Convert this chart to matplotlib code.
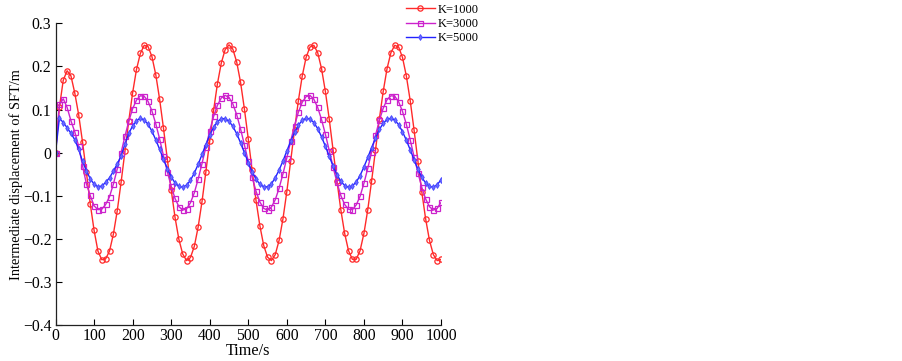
import matplotlib
matplotlib.use("Agg")
import matplotlib.pyplot as plt
from matplotlib.ticker import FixedLocator, FixedFormatter

plt.rcParams['font.family'] = ['Liberation Serif', 'DejaVu Serif']
plt.rcParams['axes.unicode_minus'] = True

time_s = list(range(0, 1001, 10))

k1000 = [0.000, 0.105, 0.168, 0.190, 0.178, 0.138, 0.088, 0.025, -0.045, -0.118,
         -0.180, -0.228, -0.248, -0.246, -0.228, -0.189, -0.135, -0.069, 0.003, 0.074,
         0.139, 0.193, 0.230, 0.249, 0.246, 0.223, 0.181, 0.124, 0.057, -0.015,
         -0.086, -0.150, -0.201, -0.235, -0.250, -0.243, -0.217, -0.172, -0.113, -0.044,
         0.028, 0.098, 0.160, 0.208, 0.239, 0.250, 0.240, 0.210, 0.163, 0.101,
         0.032, -0.041, -0.110, -0.169, -0.215, -0.242, -0.250, -0.236, -0.203, -0.153,
         -0.090, -0.019, 0.053, 0.121, 0.178, 0.221, 0.245, 0.249, 0.232, 0.195,
         0.142, 0.078, 0.006, -0.065, -0.132, -0.187, -0.227, -0.247, -0.247, -0.227,
         -0.187, -0.132, -0.065, 0.006, 0.078, 0.142, 0.195, 0.232, 0.249, 0.245,
         0.221, 0.178, 0.121, 0.053, -0.019, -0.090, -0.153, -0.203, -0.236, -0.250,
         -0.247]

k3000 = [0.000, 0.112, 0.125, 0.105, 0.074, 0.048, 0.015, -0.030, -0.072, -0.099,
         -0.123, -0.132, -0.131, -0.120, -0.102, -0.073, -0.038, 0.000, 0.038, 0.073,
         0.102, 0.122, 0.132, 0.131, 0.119, 0.097, 0.067, 0.032, -0.007, -0.044,
         -0.078, -0.106, -0.125, -0.133, -0.130, -0.116, -0.093, -0.061, -0.025, 0.013,
         0.051, 0.084, 0.110, 0.127, 0.133, 0.128, 0.113, 0.088, 0.055, 0.018,
         -0.020, -0.057, -0.089, -0.114, -0.129, -0.133, -0.126, -0.109, -0.082, -0.049,
         -0.012, 0.027, 0.063, 0.094, 0.117, 0.130, 0.133, 0.124, 0.105, 0.077,
         0.043, 0.005, -0.033, -0.069, -0.099, -0.120, -0.131, -0.132, -0.121, -0.101,
         -0.071, -0.036, 0.002, 0.040, 0.075, 0.103, 0.123, 0.132, 0.131, 0.118,
         0.096, 0.066, 0.030, -0.009, -0.046, -0.080, -0.107, -0.125, -0.133, -0.129,
         -0.115]

k5000 = [0.000, 0.080, 0.070, 0.058, 0.045, 0.030, 0.008, -0.020, -0.042, -0.060,
         -0.073, -0.079, -0.077, -0.069, -0.058, -0.043, -0.026, -0.008, 0.020, 0.045,
         0.062, 0.074, 0.080, 0.076, 0.066, 0.050, 0.030, 0.008, -0.015, -0.037,
         -0.056, -0.070, -0.078, -0.080, -0.075, -0.064, -0.047, -0.027, -0.004, 0.019,
         0.041, 0.059, 0.072, 0.079, 0.079, 0.073, 0.061, 0.044, 0.023, 0.000,
         -0.023, -0.044, -0.061, -0.073, -0.079, -0.079, -0.072, -0.058, -0.040, -0.019,
         0.004, 0.027, 0.047, 0.064, 0.075, 0.080, 0.078, 0.070, 0.056, 0.037,
         0.015, -0.008, -0.031, -0.051, -0.066, -0.076, -0.080, -0.077, -0.068, -0.053,
         -0.033, -0.011, 0.012, 0.034, 0.054, 0.068, 0.077, 0.080, 0.076, 0.065,
         0.049, 0.029, 0.007, -0.016, -0.038, -0.057, -0.070, -0.078, -0.080, -0.074,
         -0.063]

series_labels = ['K=1000', 'K=3000', 'K=5000']
x_ticks = [0, 100, 200, 300, 400, 500, 600, 700, 800, 900, 1000]
y_ticks = [-0.4, -0.3, -0.2, -0.1, 0, 0.1, 0.2, 0.3]
y_tick_labels = ['\u22120.4', '\u22120.3', '\u22120.2', '\u22120.1', '0', '0.1', '0.2', '0.3']

fig = plt.figure(figsize=(9.03, 3.61), dpi=100)
ax = fig.add_axes([0.0615, 0.0989, 0.4269, 0.8366])

ax.plot(time_s, k1000, color='#FF2A2A', lw=1.0, marker='o', ms=3.8, mfc='none',
        mew=0.9, label=series_labels[0])
ax.plot(time_s, k3000, color='#CC22CC', lw=1.0, marker='s', ms=3.6, mfc='none',
        mew=0.9, label=series_labels[1])
ax.plot(time_s, k5000, color='#2222FF', lw=1.0, marker='d', ms=3.0, mfc='#6A6AFF',
        mec='#4444FF', mew=0.6, label=series_labels[2])

ax.set_xlim(0, 1000)
ax.set_ylim(-0.4, 0.3)
ax.xaxis.set_major_locator(FixedLocator(x_ticks))
ax.yaxis.set_major_locator(FixedLocator(y_ticks))
ax.yaxis.set_major_formatter(FixedFormatter(y_tick_labels))
ax.spines['top'].set_visible(False)
ax.spines['right'].set_visible(False)
for s in ('left', 'bottom'):
    ax.spines[s].set_linewidth(0.9)
    ax.spines[s].set_color('#222222')
ax.tick_params(direction='in', length=4, width=0.8, labelsize=11.3, colors='black')
ax.tick_params(axis='x', pad=2)
ax.tick_params(axis='y', pad=3)
ax.set_xlabel('Time/s', fontsize=11.7, labelpad=-1)
ax.set_ylabel('Intermediate displacement of SFT/m', fontsize=10.4)
ax.yaxis.set_label_coords(-0.085, 0.5)

leg = fig.legend(loc='upper left', bbox_to_anchor=(0.4397, 1.014), frameon=False,
                 fontsize=9, handlelength=2.3, handletextpad=0.25, labelspacing=0.18,
                 borderpad=0.2)

fig.savefig('out.png', dpi=100)
